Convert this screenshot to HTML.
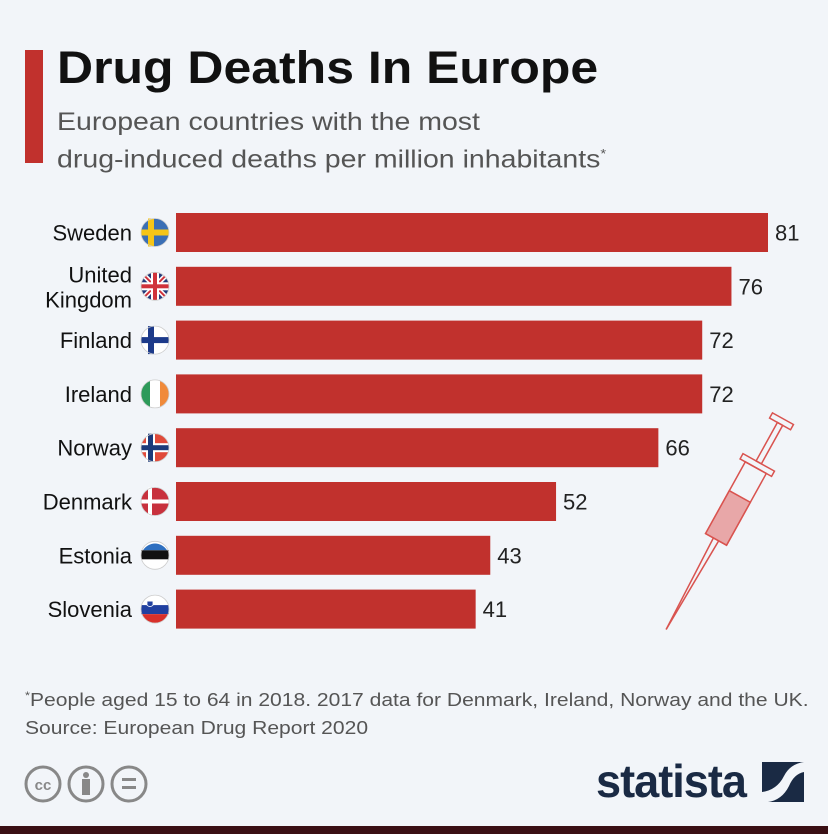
<!DOCTYPE html>
<html><head><meta charset="utf-8"><style>
body{margin:0;width:828px;height:834px;background:#f2f5f9;font-family:"Liberation Sans",sans-serif;position:relative;overflow:hidden}
.abs{position:absolute}
</style></head><body>
<div class="abs" style="left:25px;top:50px;width:18px;height:113px;background:#c1312d"></div>
<div class="abs" style="left:57px;top:42px;font-size:45px;font-weight:bold;color:#111;transform:scaleX(1.11);transform-origin:left;white-space:nowrap">Drug Deaths In Europe</div>
<div class="abs" style="left:57px;top:106px;font-size:25px;line-height:32px;color:#555;transform:scaleX(1.14);transform-origin:left;white-space:nowrap">European countries with the most<br>drug-induced deaths per million inhabitants<sup style="font-size:13px">*</sup></div>
<svg class="abs" style="left:0;top:0" width="828" height="834" id="chart"></svg>
<div class="abs" style="left:25px;top:682px;font-size:18px;line-height:28px;color:#555;transform:scaleX(1.17);transform-origin:left;white-space:nowrap"><sup style="font-size:11px">*</sup>People aged 15 to 64 in 2018. 2017 data for Denmark, Ireland, Norway and the UK.<br>Source: European Drug Report 2020</div>
<svg class="abs" style="left:24px;top:764px" width="145" height="40">
<g fill="none" stroke="#888" stroke-width="3"><circle cx="19" cy="20" r="17"/><circle cx="62" cy="20" r="17"/><circle cx="105" cy="20" r="17"/></g>
<text x="19" y="26" font-size="15" font-weight="bold" fill="#888" text-anchor="middle" font-family="Liberation Sans">cc</text>
<circle cx="62" cy="11" r="3" fill="#888"/><rect x="58" y="15" width="8" height="16" fill="#888"/>
<rect x="98" y="14" width="14" height="3" fill="#888"/><rect x="98" y="22" width="14" height="3" fill="#888"/>
</svg>
<div class="abs" style="left:596px;top:754px;font-size:46px;font-weight:bold;color:#1a2a44;letter-spacing:-1px;transform:scaleX(0.98);transform-origin:left">statista</div>
<svg class="abs" style="left:762px;top:762px" width="42" height="40"><rect width="42" height="40" fill="#1a2a44"/><path d="M0 40 L0 30 Q15 28 22 14 Q28 2 42 0 L42 10 Q32 12 27 24 Q20 38 6 40Z" fill="#f2f5f9"/></svg>
<div class="abs" style="left:0;top:826px;width:828px;height:8px;background:#3a0f14"></div>
<script>
const countries=["Sweden","United Kingdom","Finland","Ireland","Norway","Denmark","Estonia","Slovenia"];
const values=[81,76,72,72,66,52,43,41];
const svg=document.getElementById('chart');const NS="http://www.w3.org/2000/svg";
const x0=176,scale=592/81,y0=213,pitch=53.8,bh=39;
const xs=v=>v*scale,ys=i=>y0+i*pitch;
function mk(t,a){const e=document.createElementNS(NS,t);for(const k in a)e.setAttribute(k,a[k]);svg.appendChild(e);return e;}
const flags={
Sweden:c=>`<circle cx="0" cy="0" r="14" fill="#3a6fb5"/><rect x="-7" y="-14" width="6" height="28" fill="#f5c518"/><rect x="-14" y="-3" width="28" height="6" fill="#f5c518"/>`,
"United Kingdom":c=>`<circle r="14" fill="#233a7a"/><path d="M-10-10L10 10M10-10L-10 10" stroke="#fff" stroke-width="5"/><path d="M-10-10L10 10M10-10L-10 10" stroke="#d0323a" stroke-width="2"/><rect x="-14" y="-4" width="28" height="8" fill="#fff"/><rect x="-4" y="-14" width="8" height="28" fill="#fff"/><rect x="-14" y="-2" width="28" height="4" fill="#d0323a"/><rect x="-2" y="-14" width="4" height="28" fill="#d0323a"/>`,
Finland:c=>`<circle r="14" fill="#fff"/><rect x="-7" y="-14" width="6" height="28" fill="#1c3a8a"/><rect x="-14" y="-3" width="28" height="6" fill="#1c3a8a"/>`,
Ireland:c=>`<circle r="14" fill="#fff"/><path d="M-5-13A14 14 0 0 0-5 13Z" fill="#2e9a5a"/><path d="M5-13A14 14 0 0 1 5 13Z" fill="#f08a3a"/>`,
Norway:c=>`<circle r="14" fill="#e04a3a"/><rect x="-9" y="-14" width="9" height="28" fill="#fff"/><rect x="-14" y="-4.5" width="28" height="9" fill="#fff"/><rect x="-7" y="-14" width="5" height="28" fill="#1c3a7a"/><rect x="-14" y="-2.5" width="28" height="5" fill="#1c3a7a"/>`,
Denmark:c=>`<circle r="14" fill="#c8313d"/><rect x="-7" y="-14" width="4" height="28" fill="#fff"/><rect x="-14" y="-2" width="28" height="4" fill="#fff"/>`,
Estonia:c=>`<circle r="14" fill="#fff"/><path d="M-12-5A14 14 0 0 1 12-5Z" fill="#2e6fc0"/><rect x="-14" y="-5" width="28" height="9" fill="#111"/>`,
Slovenia:c=>`<circle r="14" fill="#fff"/><rect x="-14" y="-4" width="28" height="9" fill="#2040a0"/><path d="M-13 5A14 14 0 0 0 13 5Z" fill="#d8302a"/><path d="M-8-8h6v4q-3 3-6 0z" fill="#2040a0" stroke="#fff" stroke-width="0.8"/>`
};
countries.forEach((c,i)=>{
 const y=ys(i),cy=y+bh/2;
 const r=mk('rect',{x:x0,y:y,width:xs(values[i]),height:bh,fill:'#c1312d'});
 
 
 const v=mk('text',{x:x0+xs(values[i])+7,y:cy+8,'font-size':22,fill:'#222','font-family':'Liberation Sans'});v.textContent=values[i];
 
 
 const lines=c==="United Kingdom"?["United","Kingdom"]:[c];
 const t=mk('text',{x:132,'font-size':22,fill:'#111','text-anchor':'end','font-family':'Liberation Sans'});
 
 
 lines.forEach((l,j)=>{const ts=document.createElementNS(NS,'tspan');ts.setAttribute('x',132);ts.setAttribute('y',lines.length>1?cy-4+j*25:cy+8);ts.textContent=l;t.appendChild(ts);});
 const g=mk('g',{transform:`translate(155,${cy})`});g.innerHTML=flags[c]()+'<circle r="14" fill="none" stroke="#ccc" stroke-width="0.8"/>';
 
 
});
const s=mk('g',{transform:'translate(734,507) rotate(29)',fill:'none',stroke:'#d9534f','stroke-width':1.5});


s.innerHTML='<rect x="-12" y="-45" width="24" height="82" fill="#f2f5f9"/><rect x="-12" y="-12" width="24" height="49" fill="#e8a7a8"/><rect x="-18" y="-51" width="36" height="6"/><rect x="-3" y="-95" width="6" height="44"/><rect x="-12" y="-101" width="24" height="6"/><line x1="-3" y1="37" x2="0" y2="140"/><line x1="3" y1="37" x2="0" y2="140"/>';
</script>
</body></html>
